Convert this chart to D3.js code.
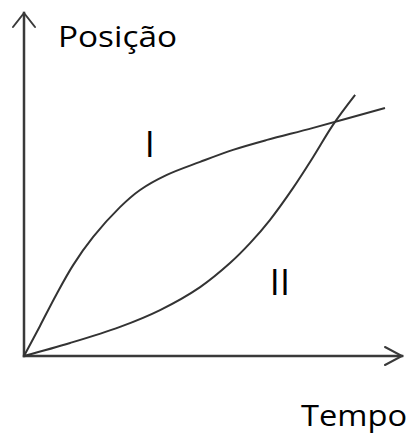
<!DOCTYPE html>
<html>
<head>
<meta charset="utf-8">
<script src="https://cdnjs.cloudflare.com/ajax/libs/d3/7.8.5/d3.min.js"></script>
<style>
  html, body { margin: 0; padding: 0; background: #fff; }
  text { font-family: "Open Sans", sans-serif; fill: #000; }
</style>
</head>
<body>
<svg id="chart" width="414" height="434"></svg>
<script>
// curva I (posição x tempo), unidades arbitrárias 0-100
var tempoI   = [0, 4.2, 8.5, 13.0, 18.3, 25.4, 30.7, 37.8, 46.6, 55.3, 64.3, 76.5, 95.5];
var posicaoI = [0, 8.7, 17.8, 26.5, 34.7, 43.4, 48.4, 52.8, 56.6, 60.1, 63.0, 66.5, 72.3];

// curva II
var tempoII   = [0, 12.2, 25.4, 36.0, 46.6, 54.5, 59.8, 65.1, 71.2, 76.5, 81.7, 87.6];
var posicaoII = [0, 3.8, 8.5, 13.4, 20.1, 27.1, 32.9, 39.7, 49.0, 58.0, 67.3, 76.1];

// rótulos das curvas
var rotulos = ['I', 'II'];
var rotuloT = [33.3, 67.7];
var rotuloP = [58, 17.8];

var svg = d3.select('#chart');

var x = d3.scaleLinear().domain([0, 100]).range([24, 402]);
var y = d3.scaleLinear().domain([0, 100]).range([356, 13]);

var line = d3.line()
    .x(d => x(d[0]))
    .y(d => y(d[1]))
    .curve(d3.curveCatmullRom.alpha(0.5));

var serieI = d3.zip(tempoI, posicaoI);
var serieII = d3.zip(tempoII, posicaoII);

// eixos com setas abertas
var ax = svg.append('g').attr('stroke', '#3a3a3a').attr('fill', 'none')
    .attr('stroke-width', 2.5).attr('stroke-linecap', 'square');
ax.append('line').attr('x1', x(0)).attr('y1', y(0)).attr('x2', x(0)).attr('y2', y(100));
ax.append('line').attr('x1', x(0)).attr('y1', y(0)).attr('x2', x(100)).attr('y2', y(0));
ax.append('path').attr('stroke-width', 2).attr('stroke-linecap', 'round')
    .attr('d', `M${x(0) - 11},${y(100) + 14}L${x(0)},${y(100)}L${x(0) + 11},${y(100) + 14}`);
ax.append('path').attr('stroke-width', 2).attr('stroke-linecap', 'round')
    .attr('d', `M${x(100) - 17},${y(0) - 9}L${x(100)},${y(0)}L${x(100) - 17},${y(0) + 9}`);

// curvas
svg.selectAll('path.curva').data([serieI, serieII]).enter().append('path')
    .attr('class', 'curva')
    .attr('d', line)
    .attr('fill', 'none')
    .attr('stroke', '#333')
    .attr('stroke-width', 2);

// textos
svg.append('text').attr('x', 58).attr('y', 47).attr('font-size', 30)
    .attr('textLength', 119).attr('lengthAdjust', 'spacingAndGlyphs').text('Posição');
svg.append('text').attr('x', 301).attr('y', 426).attr('font-size', 30)
    .attr('textLength', 106).attr('lengthAdjust', 'spacingAndGlyphs').text('Tempo');

svg.selectAll('text.rotulo').data(rotulos).enter().append('text')
    .attr('class', 'rotulo')
    .attr('x', (d, i) => x(rotuloT[i]))
    .attr('y', (d, i) => y(rotuloP[i]))
    .attr('text-anchor', 'middle')
    .attr('font-size', 36)
    .text(d => d);
</script>
</body>
</html>
